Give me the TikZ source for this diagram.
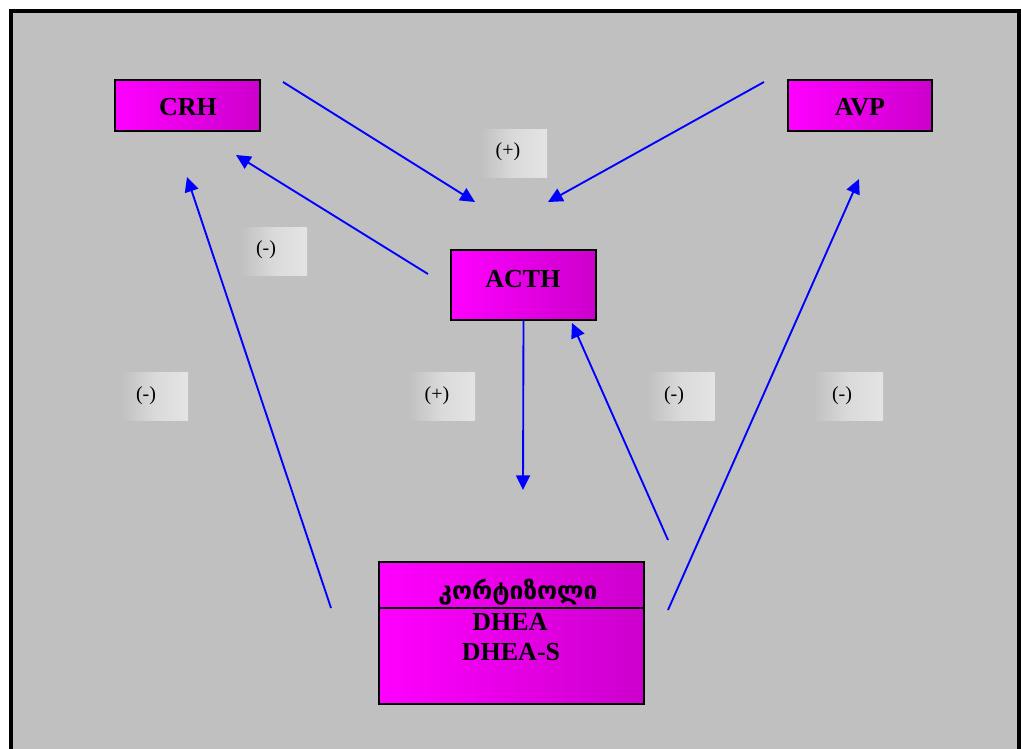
\documentclass[tikz,border=0pt]{standalone}
\usepackage{fontspec}
\setmainfont{Liberation Serif}
\newfontfamily\geofont{DejaVu Sans}
\usetikzlibrary{arrows.meta}
\definecolor{panel}{RGB}{192,192,192}
\definecolor{magdark}{RGB}{204,0,204}
\definecolor{tagmid}{RGB}{218,218,218}
\definecolor{taglight}{RGB}{228,228,228}
\definecolor{linkblue}{RGB}{0,0,255}

\begin{document}
\begin{tikzpicture}[x=0.75pt,y=-0.75pt,
  magbox/.style={draw=black, line width=1.3pt, left color=magenta, right color=magdark, inner sep=0pt},
  title/.style={font=\fontsize{19.5pt}{22pt}\selectfont\bfseries, inner sep=0pt, anchor=base},
  tag/.style={left color=panel, right color=taglight, middle color=tagmid, inner sep=0pt,
              minimum width=50.25pt, minimum height=36pt},
  sign/.style={font=\fontsize{15pt}{17pt}\selectfont, inner sep=0pt},
  link/.style={draw=linkblue, line width=1.4pt, -{Triangle[length=11pt, width=10.5pt]}}]

\useasboundingbox (0,0) rectangle (1021,749);
\clip (0,0) rectangle (1021,749);
\fill[white] (0,0) rectangle (1021,749);

% outer frame
\draw[line width=3pt, fill=panel] (11,11) rectangle (1019,780);

% hormone boxes
\node[magbox, minimum width=108.75pt, minimum height=38.25pt] (crhbox) at (187.5,105.5) {};
\node[magbox, minimum width=108pt, minimum height=38.25pt] (avpbox) at (860,105.5) {};
\node[magbox, minimum width=108.75pt, minimum height=52.5pt] (acthbox) at (523.5,285) {};
\node[magbox, minimum width=198.75pt, minimum height=106.5pt] (adrbox) at (511.5,633) {};
\coordinate (divy) at (0,608);
\draw[line width=1.1pt] (adrbox.west |- divy) -- (adrbox.east |- divy);

\node[title] (crh) at (188,116) {CRH};
\node[title] (avp) at (860,116) {AVP};
\node[title] (acth) at (523,287) {ACTH};
\node[title, font=\geofont\fontsize{18.5pt}{21pt}\selectfont\bfseries] (cort) at (518,599) {კორტიზოლი};
\node[title] (dhea) at (510,630) {DHEA};
\node[title] (dheas) at (511,660) {DHEA-S};

% feedback tags
\node[tag] (t1) at (513.5,153) {};
\node[tag] (t2) at (273.5,251.5) {};
\node[tag] (t3) at (154.5,396) {};
\node[tag] (t4) at (441.5,396) {};
\node[tag] (t5) at (681,396) {};
\node[tag, minimum width=52.5pt] (t6) at (848,396) {};
\node[sign] (s1) at (508,152) {(+)};
\node[sign] (s2) at (266,250) {(-)};
\node[sign] (s3) at (146,396) {(-)};
\node[sign] (s4) at (437,396) {(+)};
\node[sign] (s5) at (674,396) {(-)};
\node[sign] (s6) at (842,396) {(-)};

% connector end points
\coordinate (crhout) at (283,82);
\coordinate (acthinL) at (475,202);
\coordinate (avpout) at (764,82);
\coordinate (acthinR) at (548,202);
\coordinate (acthoutL) at (428,274);
\coordinate (crhinR) at (236,155);
\coordinate (adroutL) at (331,608);
\coordinate (crhinB) at (187,177);
\coordinate (adrin) at (523,490);
\coordinate (adroutM) at (668,540);
\coordinate (acthinB) at (572,323);
\coordinate (adroutR) at (668,610);
\coordinate (avpinB) at (859,179);

\draw[link] (crhout) -- (acthinL);
\draw[link] (avpout) -- (acthinR);
\draw[link] (acthoutL) -- (crhinR);
\draw[link] (adroutL) -- (crhinB);
\draw[link] (acthbox.south) -- (adrin);
\draw[link] (adroutM) -- (acthinB);
\draw[link] (adroutR) -- (avpinB);
\end{tikzpicture}
\end{document}
